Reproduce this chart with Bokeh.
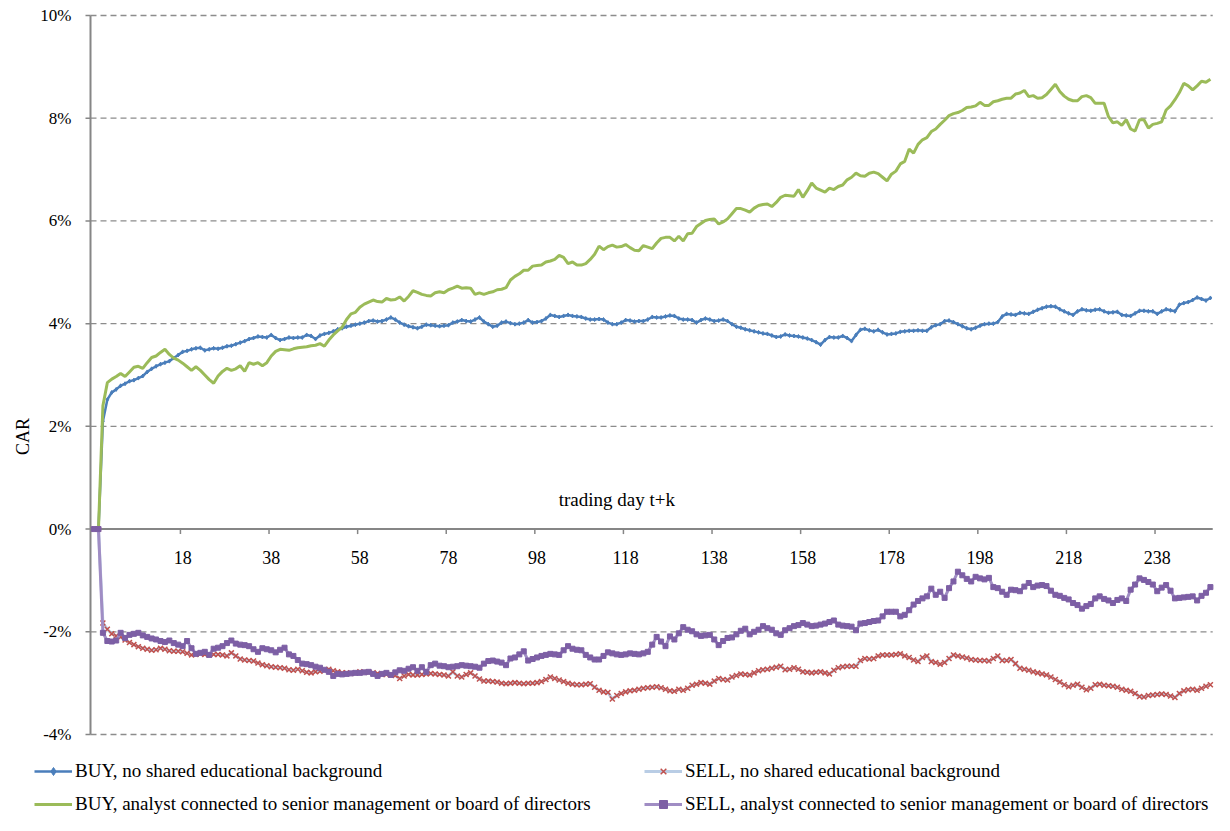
import math
from bokeh.plotting import figure
from bokeh.models import Range1d, Label, Legend, LegendItem, ColumnDataSource
from bokeh.embed import file_html
from bokeh.resources import INLINE
from bokeh.core.properties import value

# ---------------- data (CAR in %, trading day t+k) ----------------
trading_days = list(range(-2, 251))

x_tick_labels = [18, 38, 58, 78, 98, 118, 138, 158, 178, 198, 218, 238]
y_ticks = [-4, -2, 0, 2, 4, 6, 8, 10]

series_names = [
    "BUY, no shared educational background",
    "SELL, no shared educational background",
    "BUY, analyst connected to senior management or board of directors",
    "SELL, analyst connected to senior management or board of directors",
]

car_buy_noshared = [
    0, 0, 2.10, 2.52, 2.66, 2.72, 2.79, 2.83, 2.88, 2.90,
    2.94, 2.98, 3.06, 3.12, 3.17, 3.21, 3.24, 3.27, 3.33, 3.39,
    3.45, 3.47, 3.50, 3.52, 3.53, 3.48, 3.50, 3.52, 3.51, 3.53,
    3.56, 3.57, 3.60, 3.63, 3.66, 3.70, 3.72, 3.75, 3.74, 3.73,
    3.78, 3.72, 3.68, 3.70, 3.73, 3.72, 3.73, 3.73, 3.78, 3.76,
    3.70, 3.77, 3.80, 3.82, 3.85, 3.89, 3.91, 3.94, 3.96, 3.98,
    4.00, 4.02, 4.05, 4.06, 4.04, 4.05, 4.08, 4.12, 4.08, 4.02,
    3.98, 3.95, 3.93, 3.91, 3.94, 3.98, 3.97, 3.96, 3.95, 3.96,
    3.97, 4.02, 4.04, 4.07, 4.05, 4.04, 4.08, 4.12, 4.04, 3.99,
    3.94, 3.96, 4.02, 4.04, 4.01, 3.99, 4.00, 4.02, 4.07, 4.02,
    4.03, 4.05, 4.10, 4.17, 4.15, 4.13, 4.15, 4.17, 4.15, 4.14,
    4.13, 4.10, 4.08, 4.08, 4.09, 4.08, 4.02, 3.99, 3.99, 4.02,
    4.07, 4.06, 4.04, 4.05, 4.05, 4.08, 4.13, 4.12, 4.12, 4.14,
    4.16, 4.15, 4.10, 4.08, 4.08, 4.07, 4.02, 4.07, 4.10, 4.08,
    4.05, 4.06, 4.08, 4.05, 3.99, 3.94, 3.92, 3.89, 3.87, 3.85,
    3.83, 3.81, 3.80, 3.77, 3.74, 3.75, 3.79, 3.77, 3.76, 3.75,
    3.73, 3.71, 3.68, 3.64, 3.59, 3.68, 3.74, 3.73, 3.73, 3.76,
    3.72, 3.66, 3.78, 3.88, 3.90, 3.87, 3.85, 3.88, 3.83, 3.79,
    3.80, 3.81, 3.84, 3.85, 3.86, 3.86, 3.87, 3.86, 3.86, 3.93,
    3.97, 3.99, 4.05, 4.06, 4.03, 3.99, 3.95, 3.91, 3.89, 3.92,
    3.96, 3.99, 4.00, 4.00, 4.03, 4.14, 4.19, 4.18, 4.17, 4.21,
    4.20, 4.19, 4.23, 4.27, 4.30, 4.33, 4.34, 4.33, 4.28, 4.24,
    4.20, 4.17, 4.24, 4.28, 4.26, 4.25, 4.27, 4.28, 4.24, 4.21,
    4.22, 4.23, 4.17, 4.16, 4.15, 4.20, 4.25, 4.25, 4.24, 4.24,
    4.19, 4.24, 4.28, 4.26, 4.24, 4.37, 4.40, 4.42, 4.46, 4.51,
    4.48, 4.45, 4.50,
]

car_sell_noshared = [
    0, 0, -1.83, -1.95, -2.04, -2.08, -2.10, -2.16, -2.21, -2.25,
    -2.29, -2.32, -2.34, -2.36, -2.35, -2.32, -2.34, -2.37, -2.38, -2.38,
    -2.39, -2.42, -2.45, -2.44, -2.43, -2.44, -2.45, -2.44, -2.44, -2.45,
    -2.47, -2.41, -2.47, -2.53, -2.55, -2.56, -2.57, -2.61, -2.64, -2.66,
    -2.68, -2.69, -2.70, -2.71, -2.74, -2.75, -2.73, -2.76, -2.79, -2.80,
    -2.78, -2.77, -2.75, -2.73, -2.76, -2.78, -2.80, -2.80, -2.81, -2.80,
    -2.78, -2.79, -2.79, -2.80, -2.81, -2.83, -2.83, -2.84, -2.85, -2.91,
    -2.86, -2.83, -2.84, -2.84, -2.83, -2.82, -2.81, -2.82, -2.83, -2.84,
    -2.86, -2.78, -2.86, -2.88, -2.83, -2.80, -2.86, -2.92, -2.96, -2.96,
    -2.97, -2.98, -3.00, -3.01, -3.00, -2.99, -3.00, -3.01, -3.00, -3.00,
    -2.99, -2.97, -2.93, -2.88, -2.91, -2.94, -2.97, -3.00, -3.02, -3.03,
    -3.03, -3.02, -3.01, -3.08, -3.14, -3.17, -3.18, -3.31, -3.24, -3.20,
    -3.17, -3.15, -3.14, -3.12, -3.10, -3.09, -3.08, -3.07, -3.09, -3.12,
    -3.15, -3.16, -3.12, -3.14, -3.10, -3.04, -3.02, -2.99, -3.00, -3.02,
    -2.96, -2.91, -2.93, -2.94, -2.88, -2.85, -2.82, -2.83, -2.84, -2.80,
    -2.76, -2.74, -2.73, -2.71, -2.69, -2.67, -2.74, -2.73, -2.70, -2.73,
    -2.78, -2.79, -2.80, -2.79, -2.78, -2.80, -2.82, -2.75, -2.70, -2.68,
    -2.67, -2.67, -2.67, -2.56, -2.52, -2.53, -2.52, -2.47, -2.45, -2.45,
    -2.45, -2.44, -2.43, -2.47, -2.50, -2.55, -2.58, -2.50, -2.47, -2.58,
    -2.60, -2.63, -2.60, -2.52, -2.45, -2.47, -2.49, -2.51, -2.54, -2.55,
    -2.56, -2.56, -2.57, -2.52, -2.47, -2.56, -2.56, -2.54, -2.62, -2.71,
    -2.73, -2.75, -2.78, -2.80, -2.82, -2.84, -2.88, -2.93, -2.98, -3.03,
    -3.07, -3.04, -3.02, -3.08, -3.13, -3.10, -3.03, -3.02, -3.04, -3.05,
    -3.06, -3.08, -3.12, -3.14, -3.16, -3.20, -3.26, -3.27, -3.24, -3.23,
    -3.22, -3.21, -3.22, -3.25, -3.28, -3.20, -3.15, -3.13, -3.12, -3.14,
    -3.10, -3.06, -3.03,
]

car_buy_connected = [
    0, 0, 2.40, 2.85, 2.92, 2.97, 3.03, 2.97, 3.06, 3.15,
    3.17, 3.13, 3.24, 3.34, 3.37, 3.44, 3.50, 3.40, 3.33, 3.29,
    3.23, 3.16, 3.09, 3.16, 3.09, 3.00, 2.91, 2.84, 2.98, 3.07,
    3.13, 3.09, 3.12, 3.18, 3.07, 3.24, 3.21, 3.24, 3.18, 3.24,
    3.37, 3.46, 3.50, 3.49, 3.48, 3.51, 3.53, 3.54, 3.55, 3.57,
    3.58, 3.61, 3.56, 3.68, 3.78, 3.86, 3.93, 4.08, 4.19, 4.22,
    4.32, 4.38, 4.42, 4.46, 4.43, 4.42, 4.49, 4.46, 4.47, 4.52,
    4.44, 4.53, 4.64, 4.61, 4.57, 4.55, 4.54, 4.60, 4.62, 4.60,
    4.66, 4.69, 4.73, 4.69, 4.70, 4.69, 4.57, 4.60, 4.57, 4.60,
    4.62, 4.66, 4.67, 4.70, 4.85, 4.92, 4.97, 5.04, 5.04, 5.12,
    5.13, 5.14, 5.20, 5.22, 5.25, 5.33, 5.29, 5.17, 5.20, 5.14,
    5.14, 5.17, 5.25, 5.35, 5.51, 5.44, 5.50, 5.53, 5.49, 5.50,
    5.54, 5.48, 5.43, 5.42, 5.52, 5.49, 5.46, 5.57, 5.66, 5.68,
    5.68, 5.61, 5.70, 5.61, 5.75, 5.76, 5.89, 5.95, 6.01, 6.03,
    6.04, 5.94, 5.98, 6.04, 6.14, 6.24, 6.24, 6.21, 6.17, 6.25,
    6.30, 6.32, 6.33, 6.28, 6.36, 6.46, 6.50, 6.49, 6.48, 6.61,
    6.46, 6.59, 6.74, 6.64, 6.60, 6.56, 6.64, 6.61, 6.67, 6.70,
    6.80, 6.85, 6.93, 6.88, 6.87, 6.93, 6.95, 6.92, 6.85, 6.78,
    6.91, 6.97, 7.11, 7.16, 7.40, 7.32, 7.49, 7.58, 7.62, 7.74,
    7.79, 7.88, 7.96, 8.05, 8.09, 8.11, 8.15, 8.21, 8.22, 8.24,
    8.31, 8.25, 8.25, 8.32, 8.34, 8.37, 8.39, 8.39, 8.47, 8.49,
    8.54, 8.42, 8.44, 8.39, 8.40, 8.46, 8.56, 8.66, 8.52, 8.43,
    8.37, 8.34, 8.34, 8.42, 8.44, 8.40, 8.29, 8.29, 8.29, 8.03,
    7.91, 7.93, 7.86, 7.97, 7.79, 7.75, 7.97, 7.97, 7.81, 7.88,
    7.90, 7.93, 8.16, 8.24, 8.36, 8.50, 8.68, 8.63, 8.55, 8.63,
    8.72, 8.70, 8.76,
]

car_sell_connected = [
    0, 0, -2.02, -2.18, -2.19, -2.17, -2.02, -2.12, -2.06, -2.04,
    -2.02, -2.07, -2.10, -2.13, -2.15, -2.18, -2.20, -2.17, -2.22, -2.25,
    -2.28, -2.18, -2.32, -2.43, -2.41, -2.39, -2.45, -2.33, -2.31, -2.28,
    -2.22, -2.17, -2.23, -2.25, -2.26, -2.28, -2.34, -2.39, -2.32, -2.34,
    -2.36, -2.40, -2.35, -2.31, -2.44, -2.47, -2.55, -2.62, -2.63, -2.65,
    -2.68, -2.70, -2.74, -2.78, -2.86, -2.82, -2.83, -2.82, -2.81, -2.80,
    -2.80, -2.79, -2.78, -2.82, -2.86, -2.82, -2.80, -2.84, -2.79, -2.75,
    -2.76, -2.72, -2.69, -2.76, -2.69, -2.78, -2.65, -2.62, -2.66, -2.67,
    -2.69, -2.68, -2.67, -2.65, -2.66, -2.67, -2.68, -2.70, -2.62, -2.57,
    -2.56, -2.58, -2.60, -2.65, -2.52, -2.50, -2.44, -2.38, -2.56, -2.53,
    -2.50, -2.47, -2.45, -2.43, -2.44, -2.45, -2.36, -2.28, -2.33, -2.35,
    -2.36, -2.45, -2.50, -2.54, -2.54, -2.47, -2.40, -2.42, -2.44, -2.45,
    -2.44, -2.42, -2.43, -2.44, -2.42, -2.39, -2.25, -2.10, -2.19, -2.28,
    -2.09, -2.15, -2.03, -1.91, -1.96, -1.99, -2.05, -2.08, -2.07, -2.06,
    -2.15, -2.26, -2.18, -2.12, -2.11, -2.05, -1.98, -1.94, -2.05, -2.00,
    -1.96, -1.89, -1.93, -1.96, -2.03, -2.06, -1.97, -1.93, -1.89, -1.87,
    -1.83, -1.86, -1.89, -1.88, -1.86, -1.84, -1.81, -1.78, -1.86, -1.88,
    -1.89, -1.90, -1.97, -1.84, -1.83, -1.81, -1.79, -1.78, -1.70, -1.61,
    -1.61, -1.61, -1.70, -1.67, -1.58, -1.47, -1.40, -1.35, -1.31, -1.16,
    -1.28, -1.22, -1.34, -1.15, -1.02, -0.83, -0.90, -0.97, -1.02, -0.93,
    -0.96, -0.98, -0.95, -1.13, -1.15, -1.22, -1.28, -1.18, -1.19, -1.21,
    -1.12, -1.05, -1.13, -1.10, -1.09, -1.11, -1.20, -1.28, -1.30, -1.34,
    -1.37, -1.44, -1.48, -1.55, -1.50, -1.46, -1.35, -1.31, -1.36, -1.39,
    -1.44, -1.38, -1.35, -1.40, -1.18, -1.08, -0.96, -0.99, -1.03, -1.08,
    -1.21, -1.14, -1.09, -1.20, -1.35, -1.34, -1.33, -1.32, -1.31, -1.39,
    -1.30, -1.24, -1.13,
]

# ---------------- layout / styling ----------------
FONT = "Liberation Serif"
AXIS_GREY = "#868686"
GRID_GREY = "#8c8c8c"
C_BUY1 = "#4A7EBB"
C_SELL1_LINE = "#B9CDE5"
C_SELL1_MARK = "#C0504D"
C_BUY2 = "#9BBB59"
C_SELL2_LINE = "#A08DC4"
C_SELL2_MARK = "#7D5FA5"

FIG_W, FIG_H = 1214, 815
AXIS_PX = 90            # pixel column of the value axis
PX_PER_DAY = 4.43
AXIS_DAY = -2.8         # category position where the value axis sits
TOP_PX, BOT_PX = 15, 734  # pixel rows of the 10% and -4% levels

x_lo = AXIS_DAY - AXIS_PX / PX_PER_DAY
x_hi = x_lo + FIG_W / PX_PER_DAY
PX_PER_PCT = (BOT_PX - TOP_PX) / (y_ticks[-1] - y_ticks[0])
y_hi = y_ticks[-1] + TOP_PX / PX_PER_PCT
y_lo = y_hi - FIG_H / PX_PER_PCT
X_END = x_hi - 0.4


def X(px):
    return x_lo + px / PX_PER_DAY


def Y(py):
    return y_hi - py / PX_PER_PCT


src = ColumnDataSource(dict(
    day=trading_days,
    b1=car_buy_noshared,
    s1=car_sell_noshared,
    b2=car_buy_connected,
    s2=car_sell_connected,
))

p = figure(width=FIG_W, height=FIG_H, output_backend="svg", toolbar_location=None,
           x_range=Range1d(x_lo, x_hi), y_range=Range1d(y_lo, y_hi),
           x_axis_location=None, y_axis_location=None, min_border=0)
p.outline_line_color = None
p.background_fill_color = "white"
p.border_fill_color = "white"
p.xgrid.visible = False
p.ygrid.visible = False

# --- value axis (left) ---
grid_levels = [t for t in y_ticks if t != 0]
p.segment(x0=[AXIS_DAY] * len(grid_levels), y0=grid_levels,
          x1=[X_END] * len(grid_levels), y1=grid_levels,
          line_color=GRID_GREY, line_width=1.3, line_dash="6 4")
p.segment(x0=[AXIS_DAY], y0=[y_ticks[0]], x1=[AXIS_DAY], y1=[y_ticks[-1]],
          line_color=AXIS_GREY, line_width=2)
p.segment(x0=[AXIS_DAY - 5 / PX_PER_DAY] * len(y_ticks), y0=y_ticks,
          x1=[AXIS_DAY] * len(y_ticks), y1=y_ticks,
          line_color=AXIS_GREY, line_width=1.5)
p.text(x=[AXIS_DAY - 19 / PX_PER_DAY] * len(y_ticks), y=y_ticks,
       text=[f"{t}%" for t in y_ticks], text_align="right", text_baseline="middle",
       text_font=value(FONT), text_font_size="17px", text_color="black")
p.text(x=[X(22)], y=[Y(436)], text=["CAR"], angle=math.pi / 2,
       text_align="center", text_baseline="middle",
       text_font=value(FONT), text_font_size="18px", text_color="black")

# --- category axis crossing at 0 ---
p.segment(x0=[AXIS_DAY], y0=[0], x1=[X_END], y1=[0], line_color=AXIS_GREY, line_width=2)
tick_len = 5 / PX_PER_PCT
p.segment(x0=[t - 0.5 for t in x_tick_labels], y0=[0] * len(x_tick_labels),
          x1=[t - 0.5 for t in x_tick_labels], y1=[-tick_len] * len(x_tick_labels),
          line_color=AXIS_GREY, line_width=1.5)
p.text(x=x_tick_labels, y=[-28 / PX_PER_PCT] * len(x_tick_labels),
       text=[str(t) for t in x_tick_labels], text_align="center", text_baseline="middle",
       text_font=value(FONT), text_font_size="18px", text_color="black")
p.add_layout(Label(x=116, y=30 / PX_PER_PCT, text="trading day t+k", text_align="center",
                   text_baseline="middle", text_font=FONT, text_font_size="19px",
                   text_color="black"))

# --- series ---
r_b1_line = p.line("day", "b1", source=src, line_color=C_BUY1, line_width=2.5)
r_b1_mark = p.scatter("day", "b1", source=src, marker="diamond", size=4,
                      fill_color=C_BUY1, line_color=C_BUY1)
r_s1_line = p.line("day", "s1", source=src, line_color=C_SELL1_LINE, line_width=3)
r_s1_mark = p.scatter("day", "s1", source=src, marker="x", size=7,
                      line_color=C_SELL1_MARK, line_width=1.5)
r_b2_line = p.line("day", "b2", source=src, line_color=C_BUY2, line_width=3)
r_s2_line = p.line("day", "s2", source=src, line_color=C_SELL2_LINE, line_width=3)
r_s2_mark = p.scatter("day", "s2", source=src, marker="square", size=5,
                      fill_color=C_SELL2_MARK, line_color=C_SELL2_MARK)


def make_legend(items, loc):
    return Legend(items=items, location=loc, orientation="vertical",
                  label_text_font=FONT, label_text_font_size="19px", label_text_color="black",
                  glyph_width=38, glyph_height=20, label_height=20, label_standoff=3,
                  spacing=11, padding=0, margin=0,
                  border_line_color=None, background_fill_alpha=0)


leg1 = make_legend([
    LegendItem(label=series_names[0], renderers=[r_b1_line, r_b1_mark]),
    LegendItem(label=series_names[2], renderers=[r_b2_line]),
], (34, 0))
leg2 = make_legend([
    LegendItem(label=series_names[1], renderers=[r_s1_line, r_s1_mark]),
    LegendItem(label=series_names[3], renderers=[r_s2_line, r_s2_mark]),
], (644, 0))
p.add_layout(leg1)
p.add_layout(leg2)

open("out.html", "w").write(file_html(p, INLINE))
